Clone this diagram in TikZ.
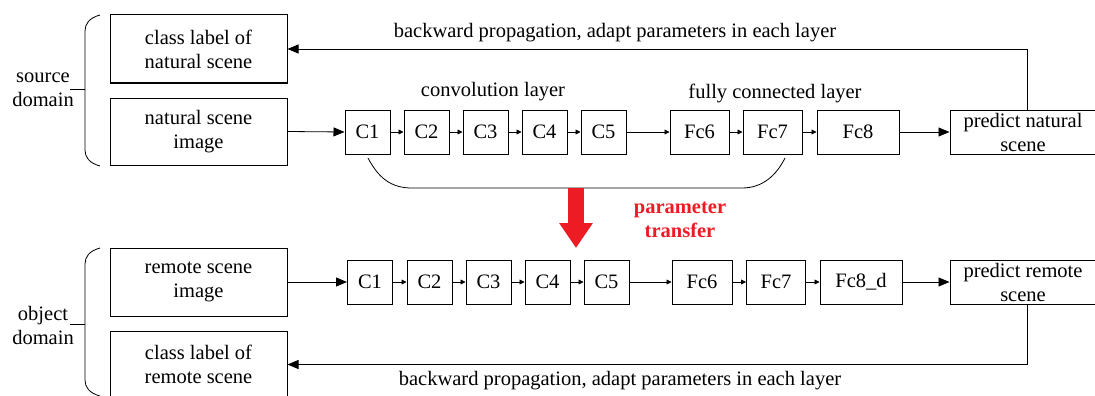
\documentclass[tikz,border=0pt]{standalone}
\usepackage{fontspec}
\setmainfont{Liberation Serif}
\newfontfamily\timesr{Liberation Serif}
\usetikzlibrary{arrows.meta}
\definecolor{transred}{HTML}{ED1C24}
\begin{document}
\begin{tikzpicture}[x=1pt, y=-1pt,
    font=\timesr\fontsize{20.5}{24}\selectfont,
    box/.style={draw, line width=1pt, inner sep=0pt, align=center, minimum height=44pt},
    bigtip/.style={line width=0.8pt, -{Triangle[length=11pt,width=9pt]}},
    smalltip/.style={line width=0.8pt, -{Triangle[length=5pt,width=5pt]}}]
    \useasboundingbox (0,0) rectangle (1095,396);

    % source domain
    \node[box, minimum width=177pt, minimum height=68pt] (clsN) at (198.5,49) {class label of\\natural scene};
    \node[box, minimum width=177pt, minimum height=67pt] (imgN) at (198.5,131.5) {natural scene\\image};
    \node[align=center] (srcD) at (43,90) {source\\domain};
    \draw[line width=0.8pt] (100,15) .. controls (89,18) and (85,24) .. (85,31) -- (85,150)
        .. controls (85,157) and (89,163) .. (100,166);
    \draw[line width=0.8pt] (85,89) -- (70,89);

    \foreach \i/\x in {1/367.5, 2/426.5, 3/485.5, 4/544.5, 5/603.5}
        \node[box, minimum width=45pt] (cN\i) at (\x,132) {C\i};
    \node[box, minimum width=59pt] (fN6) at (699.5,132) {Fc6};
    \node[box, minimum width=59pt] (fN7) at (772.5,132) {Fc7};
    \node[box, minimum width=82pt] (fN8) at (858,132) {Fc8};
    \node[box, minimum width=146pt] (predN) at (1023,132) {predict natural\\scene};

    \node (convL) at (493,92) {convolution layer};
    \node (fcL) at (775,93) {fully connected layer};
    \node (backN) at (615,33) {backward propagation, adapt parameters in each layer};

    \draw[bigtip] (imgN.east) -- (cN1.west);
    \foreach \i/\j in {1/2, 2/3, 3/4, 4/5}
        \draw[smalltip] (cN\i.east) -- (cN\j.west);
    \draw[smalltip] (cN5.east) -- (fN6.west);
    \draw[smalltip] (fN6.east) -- (fN7.west);
    \draw[smalltip] (fN7.east) -- (fN8.west);
    \draw[bigtip] (fN8.east) -- (predN.west);
    \draw[bigtip] ([xshift=4pt]predN.north) |- (clsN.east);

    % shared layers
    \coordinate (shareL) at (368,158);
    \coordinate (shareR) at (785,158);
    \draw[line width=0.8pt] (shareL) .. controls (380,181) and (394,188) .. (412,188) -- (742,188)
        .. controls (762,188) and (776,176) .. (shareR);

    % parameter transfer
    \coordinate (transTop) at (576,188);
    \coordinate (transEnd) at (576,248);
    \draw[transred, line width=16pt, -{Triangle[length=25pt,width=32pt]}] (transTop) -- (transEnd);
    \node[transred, font=\timesr\fontsize{20.5}{24}\selectfont\bfseries, align=center] (transL) at (680,220) {parameter\\transfer};

    % object domain
    \node[box, minimum width=177pt, minimum height=68pt] (imgR) at (198.5,282) {remote scene\\image};
    \node[box, minimum width=177pt, minimum height=67pt] (clsR) at (198.5,364.5) {class label of\\remote scene};
    \node[align=center] (objD) at (43,325) {object\\domain};
    \draw[line width=0.8pt] (100,248) .. controls (89,251) and (85,257) .. (85,264) -- (85,380)
        .. controls (85,387) and (89,393) .. (100,396);
    \draw[line width=0.8pt] (85,324) -- (70,324);

    \foreach \i/\x in {1/370, 2/429.5, 3/488.5, 4/547.5, 5/606.5}
        \node[box, minimum width=45pt] (cR\i) at (\x,282) {C\i};
    \node[box, minimum width=60pt] (fR6) at (702,282) {Fc6};
    \node[box, minimum width=59pt] (fR7) at (776,282) {Fc7};
    \node[box, minimum width=82pt] (fR8) at (861,282) {Fc8\_d};
    \node[box, minimum width=146pt] (predR) at (1023,282) {predict remote\\scene};

    \node (backR) at (620,381) {backward propagation, adapt parameters in each layer};

    \draw[bigtip] (imgR.east) -- (cR1.west);
    \foreach \i/\j in {1/2, 2/3, 3/4, 4/5}
        \draw[smalltip] (cR\i.east) -- (cR\j.west);
    \draw[smalltip] (cR5.east) -- (fR6.west);
    \draw[smalltip] (fR6.east) -- (fR7.west);
    \draw[smalltip] (fR7.east) -- (fR8.west);
    \draw[bigtip] (fR8.east) -- (predR.west);
    \draw[bigtip] ([xshift=4pt]predR.south) |- (clsR.east);
\end{tikzpicture}
\end{document}
